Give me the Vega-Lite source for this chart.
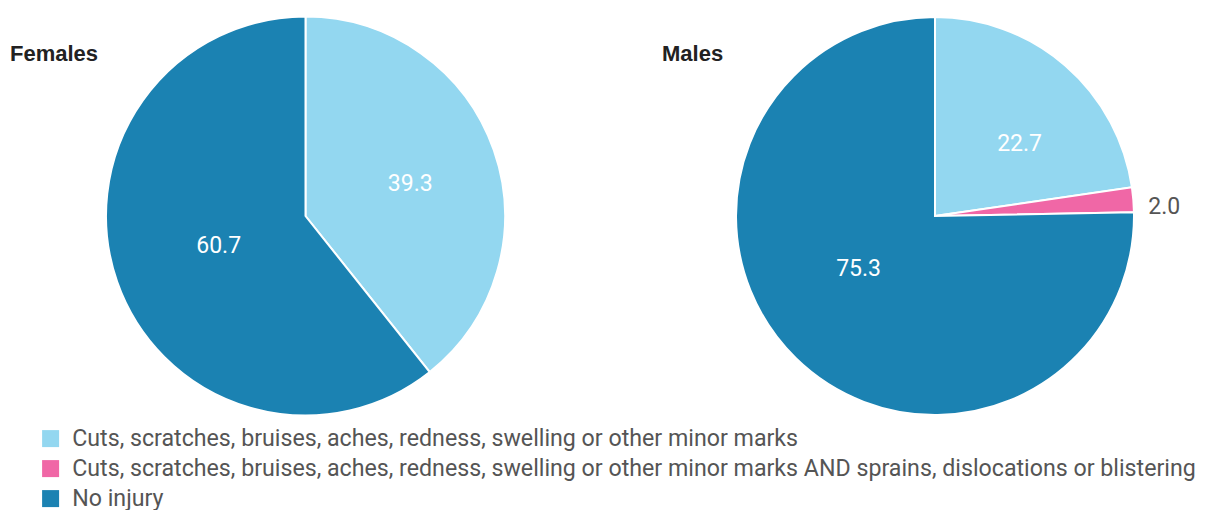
{
  "$schema": "https://vega.github.io/schema/vega-lite/v6.json",
  "padding": 0,
  "background": "white",
  "config": {
    "view": {"stroke": null},
    "font": "Roboto",
    "concat": {"spacing": 50}
  },
  "data": {
    "values": [
      {"sex": "Females", "injury": "Cuts, scratches, bruises, aches, redness, swelling or other minor marks", "rank": 1, "percent": 39.3},
      {"sex": "Females", "injury": "No injury", "rank": 3, "percent": 60.7},
      {"sex": "Males", "injury": "Cuts, scratches, bruises, aches, redness, swelling or other minor marks", "rank": 1, "percent": 22.7},
      {"sex": "Males", "injury": "Cuts, scratches, bruises, aches, redness, swelling or other minor marks AND sprains, dislocations or blistering", "rank": 2, "percent": 2.0},
      {"sex": "Males", "injury": "No injury", "rank": 3, "percent": 75.3}
    ]
  },
  "resolve": {"scale": {"theta": "independent", "color": "shared"}},
  "hconcat": [
    {
      "width": 611,
      "height": 432,
      "title": {"text": "Females", "anchor": "start", "orient": "top", "offset": 0, "dx": 10, "dy": 83, "baseline": "alphabetic", "font": "Liberation Sans", "fontSize": 22, "fontWeight": "bold", "color": "#222222"},
      "transform": [{"filter": "datum.sex === 'Females'"}],
      "layer": [
        {
          "mark": {"type": "arc", "radius": 199.5, "stroke": "white", "strokeWidth": 2},
          "encoding": {
            "theta": {"field": "percent", "type": "quantitative", "stack": true},
            "order": {"field": "rank", "type": "quantitative"},
            "color": {
              "field": "injury", "type": "nominal",
              "scale": {
                "domain": [
                  "Cuts, scratches, bruises, aches, redness, swelling or other minor marks",
                  "Cuts, scratches, bruises, aches, redness, swelling or other minor marks AND sprains, dislocations or blistering",
                  "No injury"
                ],
                "range": ["#93D7F0", "#F067A6", "#1B82B2"]
              },
              "legend": {"orient": "none", "legendX": 39, "legendY": 427, "title": null, "direction": "vertical", "symbolType": "square", "symbolSize": 289, "symbolStrokeWidth": 0, "labelFont": "Roboto", "labelFontSize": 23.2, "labelColor": "#555555", "labelLimit": 2000, "labelOffset": 10, "rowPadding": 6}
            }
          }
        },
        {
          "mark": {"type": "text", "radius": 111, "dy": 5, "fill": "white", "font": "Roboto", "fontSize": 23},
          "encoding": {
            "theta": {"field": "percent", "type": "quantitative", "stack": true},
            "order": {"field": "rank", "type": "quantitative"},
            "text": {"condition": {"test": "datum.rank === 1", "field": "percent", "type": "quantitative", "format": ".1f"}, "value": ""}
          }
        },
        {
          "mark": {"type": "text", "radius": 92, "fill": "white", "font": "Roboto", "fontSize": 23},
          "encoding": {
            "theta": {"field": "percent", "type": "quantitative", "stack": true},
            "order": {"field": "rank", "type": "quantitative"},
            "text": {"condition": {"test": "datum.rank === 3", "field": "percent", "type": "quantitative", "format": ".1f"}, "value": ""}
          }
        }
      ]
    },
    {
      "width": 548,
      "height": 432,
      "title": {"text": "Males", "anchor": "start", "orient": "top", "offset": 0, "dx": 1, "dy": 83, "baseline": "alphabetic", "font": "Liberation Sans", "fontSize": 22, "fontWeight": "bold", "color": "#222222"},
      "transform": [{"filter": "datum.sex === 'Males'"}],
      "layer": [
        {
          "mark": {"type": "arc", "radius": 199, "stroke": "white", "strokeWidth": 2},
          "encoding": {
            "theta": {"field": "percent", "type": "quantitative", "stack": true},
            "order": {"field": "rank", "type": "quantitative"},
            "color": {"field": "injury", "type": "nominal"}
          }
        },
        {
          "mark": {"type": "text", "radius": 111, "dx": 12, "dy": 12, "fill": "white", "font": "Roboto", "fontSize": 23},
          "encoding": {
            "theta": {"field": "percent", "type": "quantitative", "stack": true},
            "order": {"field": "rank", "type": "quantitative"},
            "text": {"condition": {"test": "datum.rank === 1", "field": "percent", "type": "quantitative", "format": ".1f"}, "value": ""}
          }
        },
        {
          "mark": {"type": "text", "radius": 92, "dx": -12, "dy": -13, "fill": "white", "font": "Roboto", "fontSize": 23},
          "encoding": {
            "theta": {"field": "percent", "type": "quantitative", "stack": true},
            "order": {"field": "rank", "type": "quantitative"},
            "text": {"condition": {"test": "datum.rank === 3", "field": "percent", "type": "quantitative", "format": ".1f"}, "value": ""}
          }
        },
        {
          "mark": {"type": "text", "radius": 230, "dy": 10, "fill": "#555555", "font": "Roboto", "fontSize": 23},
          "encoding": {
            "theta": {"field": "percent", "type": "quantitative", "stack": true},
            "order": {"field": "rank", "type": "quantitative"},
            "text": {"condition": {"test": "datum.rank === 2", "field": "percent", "type": "quantitative", "format": ".1f"}, "value": ""}
          }
        }
      ]
    }
  ]
}
